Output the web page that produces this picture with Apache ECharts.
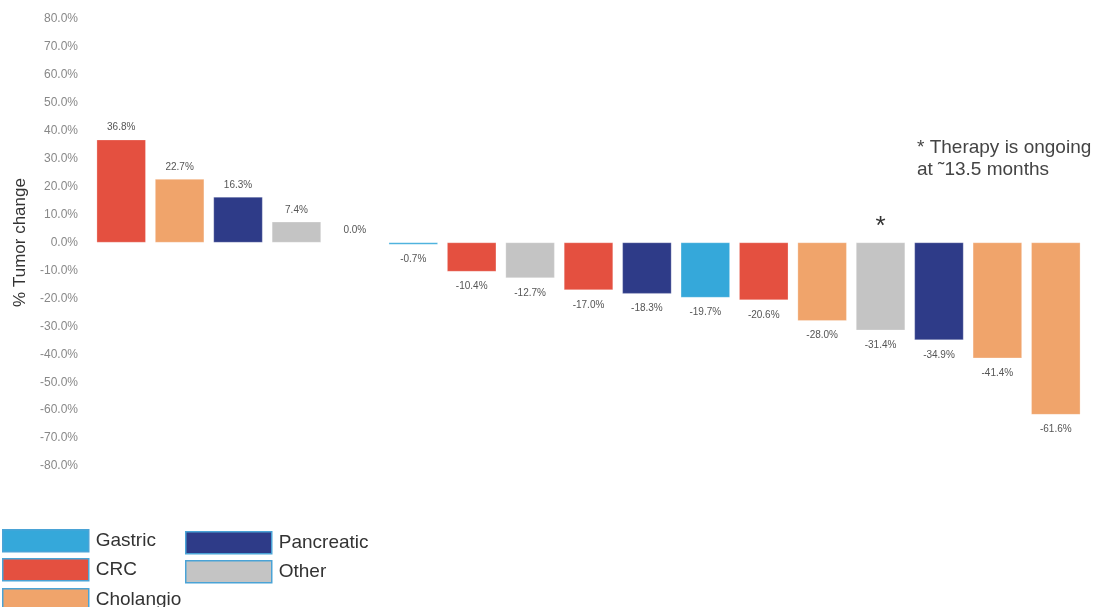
<!DOCTYPE html>
<html>
<head>
<meta charset="utf-8">
<script src="https://cdn.jsdelivr.net/npm/echarts@6/dist/echarts.min.js"></script>
<style>
html,body{margin:0;padding:0;background:#fff;}
#c{width:1093px;height:607px;}
</style>
</head>
<body>
<div id="c"></div>
<script>
// Data
const patients = ['P1','P2','P3','P4','P5','P6','P7','P8','P9','P10','P11','P12','P13','P14','P15','P16','P17'];
const tumorTypes = ['CRC','Cholangio','Pancreatic','Other','Other','Gastric','CRC','Other','CRC','Pancreatic','Gastric','CRC','Cholangio','Other','Pancreatic','Cholangio','Cholangio'];
const changes = [36.8, 22.7, 16.3, 7.4, 0.0, -0.7, -10.4, -12.7, -17.0, -18.3, -19.7, -20.6, -28.0, -31.4, -34.9, -41.4, -61.6];
const yTicks = [-80,-70,-60,-50,-40,-30,-20,-10,0,10,20,30,40,50,60,70,80];
const typeNames = ['Gastric','CRC','Cholangio','Pancreatic','Other'];
const typeColors = {Gastric:'#35a8da', CRC:'#e45040', Cholangio:'#f0a46b', Pancreatic:'#2e3b88', Other:'#c4c4c4'};
const ongoingPatient = 'P14';

const chart = echarts.init(document.getElementById('c'));

const series = typeNames.map(t => ({
  name: t,
  type: 'bar',
  stack: 'all',
  barCategoryGap: '16%',
  itemStyle: {color: typeColors[t], borderColor: 'rgba(255,255,255,0.5)', borderWidth: 0.5},
  data: changes.map((v, i) => {
    if (tumorTypes[i] !== t) return null;
    return {
      value: v,
      label: {
        show: true,
        position: v >= 0 ? 'top' : 'bottom',
        distance: v >= 0 ? 7 : 10,
        formatter: p => p.value.toFixed(1) + '%',
        color: '#555',
        fontSize: 10,
        fontFamily: 'Liberation Sans'
      }
    };
  })
}));

const legendCommon = {
  orient: 'vertical',
  itemWidth: 86,
  itemHeight: 22,
  icon: 'rect',
  itemStyle: {borderColor: '#4aa3d6', borderWidth: 1.5},
  textStyle: {fontSize: 19, color: '#333', fontFamily: 'Liberation Sans', padding: [0,0,0,2]},
  selectedMode: false,
  padding: 0
};
const legendPos = [
  {name: 'Gastric', left: 2, top: 529},
  {name: 'CRC', left: 2, top: 558},
  {name: 'Cholangio', left: 2, top: 588},
  {name: 'Pancreatic', left: 185, top: 531},
  {name: 'Other', left: 185, top: 560}
];

chart.setOption({
  animation: false,
  backgroundColor: '#fff',
  grid: {left: 92, right: 8, top: 19, bottom: 141, containLabel: false},
  legend: legendPos.map(l => Object.assign({left: l.left, top: l.top, data: [l.name]}, legendCommon)),
  xAxis: {
    type: 'category',
    data: patients,
    axisLine: {show: false},
    axisTick: {show: false},
    axisLabel: {show: false}
  },
  yAxis: {
    type: 'value',
    min: -80, max: 80, interval: 10,
    name: '% Tumor change',
    nameLocation: 'middle',
    nameGap: 62,
    nameTextStyle: {fontSize: 17, color: '#333', fontFamily: 'Liberation Sans'},
    axisLine: {show: false},
    axisTick: {show: false},
    splitLine: {show: false},
    axisLabel: {
      margin: 14,
      fontSize: 12,
      color: '#888',
      fontFamily: 'Liberation Sans',
      formatter: v => yTicks.includes(v) ? v.toFixed(1) + '%' : ''
    }
  },
  series: series
});

const pt = chart.convertToPixel({xAxisIndex: 0, yAxisIndex: 0}, [ongoingPatient, 0]);
chart.setOption({
  graphic: [
    {
      type: 'text',
      x: pt[0], y: pt[1] - 3,
      style: {text: '*', fontSize: 26, fill: '#333', fontFamily: 'Liberation Sans', align: 'center', verticalAlign: 'bottom'}
    },
    {
      type: 'text',
      left: 917, top: 137,
      style: {text: '* Therapy is ongoing\nat \u02DC13.5 months', fontSize: 19, lineHeight: 22, fill: '#444', fontFamily: 'Liberation Sans'}
    }
  ]
});
</script>
</body>
</html>
